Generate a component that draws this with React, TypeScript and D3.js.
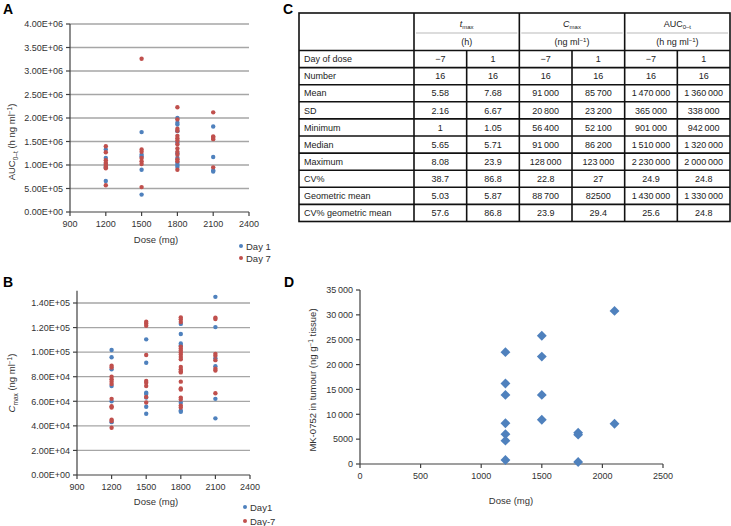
import React from "react";
import * as d3 from "d3";

const FONT = "'Liberation Sans', Arial, Helvetica, sans-serif";
const BLUE = "#4f81bd";
const RED = "#c0504d";
const GRID = "#a6a6a6";
const AXIS = "#404040";

// ---- panel A / B shared x ticks
const doseTicks = [900, 1200, 1500, 1800, 2100, 2400];
const aucTicks = [0, 5e5, 1e6, 1.5e6, 2e6, 2.5e6, 3e6, 3.5e6, 4e6];
const cmaxTicks = [0, 2e4, 4e4, 6e4, 8e4, 1e5, 1.2e5, 1.4e5];

// ---- panel A: AUC0-t per dose
const aucDay1: [number, number][] = [
  [1200, 1.33e6], [1200, 1.15e6], [1200, 1.02e6], [1200, 0.95e6], [1200, 0.66e6],
  [1500, 1.7e6], [1500, 1.22e6], [1500, 1.18e6], [1500, 0.9e6], [1500, 0.37e6],
  [1800, 2.0e6], [1800, 1.9e6], [1800, 1.86e6], [1800, 1.72e6], [1800, 1.48e6],
  [1800, 1.25e6], [1800, 1.15e6], [1800, 1.05e6], [1800, 1.0e6], [1800, 0.96e6],
  [2100, 1.82e6], [2100, 1.17e6], [2100, 0.89e6], [2100, 0.86e6],
];
const aucDay7: [number, number][] = [
  [1200, 1.4e6], [1200, 1.27e6], [1200, 1.1e6], [1200, 1.05e6], [1200, 1.0e6],
  [1200, 0.97e6], [1200, 0.93e6], [1200, 0.57e6],
  [1500, 3.26e6], [1500, 1.33e6], [1500, 1.28e6], [1500, 1.15e6], [1500, 1.08e6],
  [1500, 1.02e6], [1500, 0.53e6],
  [1800, 2.23e6], [1800, 1.97e6], [1800, 1.77e6], [1800, 1.73e6], [1800, 1.62e6],
  [1800, 1.57e6], [1800, 1.52e6], [1800, 1.44e6], [1800, 1.35e6], [1800, 1.28e6],
  [1800, 1.22e6], [1800, 1.12e6], [1800, 1.08e6], [1800, 0.9e6],
  [2100, 2.12e6], [2100, 1.61e6], [2100, 1.58e6], [2100, 1.55e6], [2100, 0.95e6],
];

// ---- panel B: Cmax per dose
const cmaxDay1: [number, number][] = [
  [1200, 101700], [1200, 95800], [1200, 86000], [1200, 72500], [1200, 60000], [1200, 43000],
  [1500, 110400], [1500, 91400], [1500, 67000], [1500, 66000], [1500, 63000], [1500, 55600], [1500, 49800],
  [1800, 123000], [1800, 114800], [1800, 107000], [1800, 105500], [1800, 58900], [1800, 52500], [1800, 51500],
  [2100, 145000], [2100, 120400], [2100, 95000], [2100, 88500], [2100, 62000], [2100, 46100],
];
const cmaxDay7: [number, number][] = [
  [1200, 89000], [1200, 87500], [1200, 80000], [1200, 78000], [1200, 76000], [1200, 74000],
  [1200, 62000], [1200, 56000], [1200, 55000], [1200, 45000], [1200, 44000], [1200, 38500],
  [1500, 124800], [1500, 123300], [1500, 121500], [1500, 97700], [1500, 76500], [1500, 75000],
  [1500, 72500], [1500, 63500], [1500, 59000],
  [1800, 128300], [1800, 126700], [1800, 124500], [1800, 104500], [1800, 103000], [1800, 101400],
  [1800, 99800], [1800, 98100], [1800, 96100], [1800, 94200], [1800, 88000], [1800, 86000],
  [1800, 84500], [1800, 83500], [1800, 76000], [1800, 70500], [1800, 69500], [1800, 63000],
  [1800, 61500], [1800, 56500], [1800, 55000],
  [2100, 128000], [2100, 127000], [2100, 98600], [2100, 97000], [2100, 93500], [2100, 86500],
  [2100, 85000], [2100, 66500],
];

// ---- panel D: tumour concentration
const tumourXTicks = [0, 500, 1000, 1500, 2000, 2500];
const tumourYTicks = [0, 5000, 10000, 15000, 20000, 25000, 30000, 35000];
const tumourConc: [number, number][] = [
  [1200, 22500], [1200, 16200], [1200, 13900], [1200, 8200], [1200, 6000], [1200, 4700], [1200, 800],
  [1500, 25800], [1500, 21600], [1500, 13900], [1500, 8900],
  [1800, 6300], [1800, 5900], [1800, 400],
  [2100, 30800], [2100, 8100],
];

// ---- panel C: PK table
const ts = "\u2009";
const tableRowLabels = [
  "Day of dose", "Number", "Mean", "SD", "Minimum", "Median", "Maximum",
  "CV%", "Geometric mean", "CV% geometric mean",
];
const tableValues = [
  ["\u22127", "1", "\u22127", "1", "\u22127", "1"],
  ["16", "16", "16", "16", "16", "16"],
  ["5.58", "7.68", `91${ts}000`, `85${ts}700`, `1${ts}470${ts}000`, `1${ts}360${ts}000`],
  ["2.16", "6.67", `20${ts}800`, `23${ts}200`, `365${ts}000`, `338${ts}000`],
  ["1", "1.05", `56${ts}400`, `52${ts}100`, `901${ts}000`, `942${ts}000`],
  ["5.65", "5.71", `91${ts}000`, `86${ts}200`, `1${ts}510${ts}000`, `1${ts}320${ts}000`],
  ["8.08", "23.9", `128${ts}000`, `123${ts}000`, `2${ts}230${ts}000`, `2${ts}000${ts}000`],
  ["38.7", "86.8", "22.8", "27", "24.9", "24.8"],
  ["5.03", "5.87", `88${ts}700`, "82500", `1${ts}430${ts}000`, `1${ts}330${ts}000`],
  ["57.6", "86.8", "23.9", "29.4", "25.6", "24.8"],
];
const tableGroups = [
  { main: "t", sub: "max", italic: true, unit: "(h)", sup: "" },
  { main: "C", sub: "max", italic: true, unit: "(ng ml", sup: "\u22121" },
  { main: "AUC", sub: "0\u2013t", italic: false, unit: "(h ng ml", sup: "\u22121" },
];

const sci = (v: number) => {
  if (v === 0) return "0.00E+00";
  const e = Math.floor(Math.log10(v) + 1e-9);
  return `${(v / 10 ** e).toFixed(2)}E+${String(e).padStart(2, "0")}`;
};
const thin = (v: number) => (v >= 10000 ? d3.format(",")(v).replace(",", ts) : String(v));

const Scatter = ({ x, y, xTicks, yTicks, yTop, grid, fmtY }: any) => {
  const [x0, x1] = x.range();
  const y0 = y(0);
  return (
    <g>
      {grid &&
        yTicks.filter((t: number) => t > 0).map((t: number) => (
          <line key={"g" + t} x1={x0} x2={x1} y1={y(t)} y2={y(t)} stroke={GRID} strokeWidth={1.3} />
        ))}
      <line x1={x0} x2={x0} y1={yTop} y2={y0} stroke={AXIS} strokeWidth={1.2} />
      <line x1={x0} x2={x1} y1={y0} y2={y0} stroke={AXIS} strokeWidth={1.2} />
      {yTicks.map((t: number) => (
        <g key={"y" + t}>
          <line x1={x0 - 4} x2={x0} y1={y(t)} y2={y(t)} stroke={AXIS} strokeWidth={1.2} />
          <text x={x0 - 7} y={y(t) + 3.3} textAnchor="end" fontSize={9} fill="#333">
            {fmtY(t)}
          </text>
        </g>
      ))}
      {xTicks.map((t: number) => (
        <g key={"x" + t}>
          <line x1={x(t)} x2={x(t)} y1={y0} y2={y0 + 4} stroke={AXIS} strokeWidth={1.2} />
          <text x={x(t)} y={y0 + 15} textAnchor="middle" fontSize={9} fill="#333">
            {t}
          </text>
        </g>
      ))}
    </g>
  );
};

const App = () => {
  const xA = d3.scaleLinear().domain([900, 2400]).range([70, 249]);
  const yA = d3.scaleLinear().domain([0, 4e6]).range([212, 24]);
  const xB = d3.scaleLinear().domain([900, 2400]).range([77, 250]);
  const yB = d3.scaleLinear().domain([0, 1.4e5]).range([475, 303]);
  const xD = d3.scaleLinear().domain([0, 2500]).range([360, 663]);
  const yD = d3.scaleLinear().domain([0, 35000]).range([464, 290]);

  const diamond = d3.symbol().type(d3.symbolDiamond2).size(62)();

  // table geometry
  const labelLeft = 299;
  const tableRight = 730;
  const tableTop = 13;
  const valueCols = d3.scaleBand().domain(d3.range(6).map(String)).range([414, tableRight]);
  const rows = d3.scaleBand().domain(tableRowLabels).range([50.5, 221.5]);
  const bw = valueCols.bandwidth();
  const rh = rows.bandwidth();
  const tableBottom = 221.5;

  return (
    <div style={{ position: "absolute", left: 0, top: 0 }}>
      <svg width={731} height={526} style={{ display: "block", fontFamily: FONT }}>
        <rect width={731} height={526} fill="#fff" />

        {/* panel letters */}
        <text x={3} y={14} fontSize={14} fontWeight="bold">A</text>
        <text x={3} y={287} fontSize={14} fontWeight="bold">B</text>
        <text x={283} y={14} fontSize={14} fontWeight="bold">C</text>
        <text x={284} y={287} fontSize={14} fontWeight="bold">D</text>

        {/* ---------- A ---------- */}
        <Scatter x={xA} y={yA} xTicks={doseTicks} yTicks={aucTicks} yTop={yA(4e6)} grid fmtY={sci} />
        {aucDay1.map(([d, v], i) => (
          <circle key={"a1" + i} cx={xA(d)} cy={yA(v)} r={2.2} fill={BLUE} />
        ))}
        {aucDay7.map(([d, v], i) => (
          <circle key={"a7" + i} cx={xA(d)} cy={yA(v)} r={2.2} fill={RED} />
        ))}
        <text x={156} y={243} textAnchor="middle" fontSize={9.5} fill="#333">Dose (mg)</text>
        <text transform="translate(15,142) rotate(-90)" textAnchor="middle" fontSize={9.5} fill="#333">
          AUC<tspan fontSize={6.5} dy={2.5}>0–t</tspan>
          <tspan dy={-2.5}> (h ng ml</tspan>
          <tspan fontSize={6.5} dy={-3.5}>−1</tspan>
          <tspan dy={3.5}>)</tspan>
        </text>
        <circle cx={241} cy={246} r={2} fill={BLUE} />
        <text x={246} y={249.5} fontSize={9.5} fill="#333">Day 1</text>
        <circle cx={241} cy={258} r={2} fill={RED} />
        <text x={246} y={261.5} fontSize={9.5} fill="#333">Day 7</text>

        {/* ---------- B ---------- */}
        <Scatter x={xB} y={yB} xTicks={doseTicks} yTicks={cmaxTicks} yTop={yB(1.5e5)} grid fmtY={sci} />
        {cmaxDay1.map(([d, v], i) => (
          <circle key={"b1" + i} cx={xB(d)} cy={yB(v)} r={2.2} fill={BLUE} />
        ))}
        {cmaxDay7.map(([d, v], i) => (
          <circle key={"b7" + i} cx={xB(d)} cy={yB(v)} r={2.2} fill={RED} />
        ))}
        <text x={156} y={505} textAnchor="middle" fontSize={9.5} fill="#333">Dose (mg)</text>
        <text transform="translate(15,383) rotate(-90)" textAnchor="middle" fontSize={9.5} fill="#333">
          <tspan fontStyle="italic">C</tspan>
          <tspan fontSize={6.5} dy={2.5}>max</tspan>
          <tspan dy={-2.5}> (ng ml</tspan>
          <tspan fontSize={6.5} dy={-3.5}>−1</tspan>
          <tspan dy={3.5}>)</tspan>
        </text>
        <circle cx={245} cy={507} r={2} fill={BLUE} />
        <text x={250} y={510.5} fontSize={9.5} fill="#333">Day1</text>
        <circle cx={245} cy={521} r={2} fill={RED} />
        <text x={250} y={524.5} fontSize={9.5} fill="#333">Day-7</text>

        {/* ---------- C table ---------- */}
        <g fontSize={9} fill="#222">
          {tableRowLabels.map((lab, ri) => (
            <g key={lab}>
              <text x={labelLeft + 5} y={(rows(lab) as number) + rh / 2 + 3.2}>{lab}</text>
              {tableValues[ri].map((v, ci) => (
                <text key={ci} x={(valueCols(String(ci)) as number) + bw / 2} y={(rows(lab) as number) + rh / 2 + 3.2} textAnchor="middle">
                  {v}
                </text>
              ))}
            </g>
          ))}
          {tableGroups.map((g, gi) => {
            const cx = (valueCols(String(gi * 2)) as number) + bw;
            return (
              <g key={gi}>
                <text x={cx} y={27} textAnchor="middle">
                  <tspan fontStyle={g.italic ? "italic" : "normal"}>{g.main}</tspan>
                  <tspan fontSize={6} dy={2}>{g.sub}</tspan>
                </text>
                <text x={cx} y={45} textAnchor="middle">
                  {g.unit}
                  {g.sup && <tspan fontSize={6} dy={-3}>{g.sup}</tspan>}
                  {g.sup && <tspan dy={3}>)</tspan>}
                </text>
                <line
                  x1={(valueCols(String(gi * 2)) as number) + 2}
                  x2={(valueCols(String(gi * 2 + 1)) as number) + bw - 2}
                  y1={33}
                  y2={33}
                  stroke="#d0d0d0"
                  strokeWidth={1.5}
                />
              </g>
            );
          })}
        </g>
        {/* table rules */}
        <g stroke="#111" strokeWidth={1.6} fill="none">
          <rect x={labelLeft} y={tableTop} width={tableRight - labelLeft} height={tableBottom - tableTop} />
          {tableRowLabels.map((lab) => (
            <line key={lab} x1={labelLeft} x2={tableRight} y1={rows(lab)} y2={rows(lab)} />
          ))}
          {d3.range(6).map((ci) => (
            <line
              key={ci}
              x1={valueCols(String(ci))}
              x2={valueCols(String(ci))}
              y1={ci % 2 === 0 ? tableTop : 50.5}
              y2={tableBottom}
            />
          ))}
        </g>

        {/* ---------- D ---------- */}
        <Scatter x={xD} y={yD} xTicks={tumourXTicks} yTicks={tumourYTicks} yTop={yD(35000)} grid={false} fmtY={thin} />
        {tumourConc.map(([d, v], i) => (
          <path key={"d" + i} d={diamond as string} transform={`translate(${xD(d)},${yD(v)})`} fill={BLUE} />
        ))}
        <text x={511} y={504} textAnchor="middle" fontSize={9.5} fill="#333">Dose (mg)</text>
        <text transform="translate(316,380) rotate(-90)" textAnchor="middle" fontSize={9.5} fill="#333">
          MK-0752 in tumour (ng g<tspan fontSize={6.5} dy={-3.5}>−1</tspan>
          <tspan dy={3.5}> tissue)</tspan>
        </text>
      </svg>
    </div>
  );
};

export default App;
